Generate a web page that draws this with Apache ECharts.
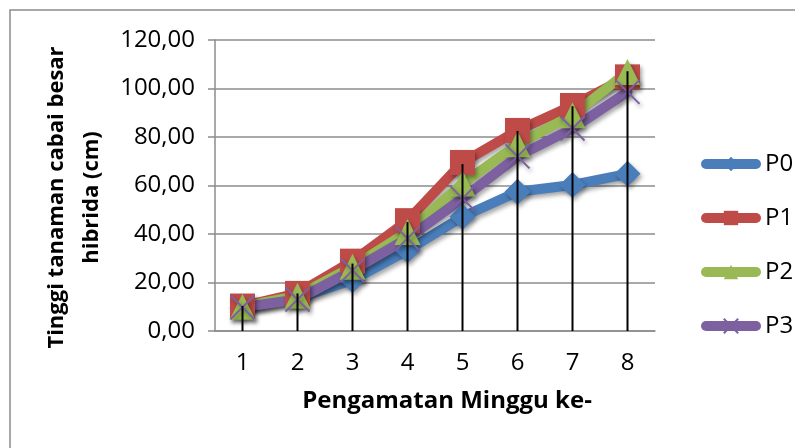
<!DOCTYPE html>
<html>
<head>
<meta charset="utf-8">
<style>
  html, body { margin: 0; padding: 0; background: #ffffff; }
  #chart { width: 795px; height: 448px; }
</style>
<script src="https://cdn.jsdelivr.net/npm/echarts@6/dist/echarts.min.js"></script>
</head>
<body>
<div id="chart"></div>
<script>
// Weekly observations
const minggu = ['1', '2', '3', '4', '5', '6', '7', '8'];

// Plant height (cm) per treatment
const P0 = [9.5, 13.5, 21.0, 33.3, 47.1, 57.4, 60.2, 64.8];
const P1 = [10.3, 15.5, 28.8, 45.5, 69.5, 82.7, 93.0, 104.8];
const P2 = [10.0, 14.5, 26.5, 40.8, 60.8, 77.0, 89.0, 106.8];
const P3 = [9.8, 13.0, 25.0, 38.2, 54.7, 72.0, 83.5, 98.6];

// Vertical reference bars drawn from zero at each week
const garisAtas = [10.3, 15.5, 27.8, 44.9, 68.8, 82.5, 92.7, 107.1];

// Y-axis ticks
const yMin = 0, yMax = 120, yStep = 20;

const FONT = 'Open Sans';
const shadow = {
  shadowColor: 'rgba(0,0,0,0.35)',
  shadowBlur: 4,
  shadowOffsetX: 2,
  shadowOffsetY: 3
};

function lineSeries(name, data, color, symbol, size, extra) {
  return Object.assign({
    name: name,
    type: 'line',
    data: data,
    symbol: symbol,
    symbolSize: size,
    showAllSymbol: true,
    lineStyle: Object.assign({ color: color, width: 10, cap: 'round', join: 'round' }, shadow),
    itemStyle: Object.assign({ color: color }, shadow),
    emphasis: { disabled: true },
    animation: false
  }, extra || {});
}

const chart = echarts.init(document.getElementById('chart'), null, { renderer: 'canvas' });

chart.setOption({
  backgroundColor: '#ffffff',
  textStyle: { fontFamily: FONT },
  graphic: [{
    type: 'rect',
    shape: { x: 10, y: 10, width: 800, height: 460 },
    style: { fill: 'none', stroke: '#8c8c8c', lineWidth: 1.5 },
    silent: true,
    z: -1
  }],
  grid: { left: 215, right: 140, top: 40, bottom: 117 },
  legend: {
    data: ['P0', 'P1', 'P2', 'P3'],
    orient: 'vertical',
    left: 696,
    top: 147,
    itemWidth: 50,
    itemHeight: 18,
    itemGap: 30,
    lineStyle: { width: 10, cap: 'round', shadowBlur: 0, shadowOffsetX: 0, shadowOffsetY: 0 },
    itemStyle: { shadowBlur: 0, shadowOffsetX: 0, shadowOffsetY: 0 },
    textStyle: { fontFamily: FONT, fontSize: 24, color: '#000', padding: [0, 0, 0, 4] },
    selectedMode: false
  },
  xAxis: {
    type: 'category',
    data: minggu,
    boundaryGap: true,
    axisLine: { lineStyle: { color: '#8c8c8c', width: 1.5 } },
    axisTick: { show: false },
    axisLabel: { color: '#000', fontFamily: FONT, fontSize: 24, margin: 20 },
    name: 'Pengamatan Minggu ke-',
    nameLocation: 'middle',
    nameGap: 58,
    nameTextStyle: { color: '#000', fontFamily: FONT, fontSize: 24, fontWeight: 'bold', padding: [0, 0, 0, 24] }
  },
  yAxis: {
    type: 'value',
    min: yMin,
    max: yMax,
    interval: yStep,
    axisLine: { show: true, lineStyle: { color: '#8c8c8c', width: 1.5 } },
    axisTick: { show: true, inside: false, length: 7, lineStyle: { color: '#8c8c8c', width: 1.5 } },
    splitLine: { lineStyle: { color: '#8c8c8c', width: 1.5 } },
    axisLabel: {
      color: '#000', fontFamily: FONT, fontSize: 24, margin: 20,
      formatter: v => v.toFixed(2).replace('.', ',')
    },
    name: 'Tinggi tanaman cabai besar\nhibrida (cm)',
    nameLocation: 'middle',
    nameRotate: 90,
    nameGap: 105,
    nameTextStyle: { color: '#000', fontFamily: FONT, fontSize: 22, fontWeight: 'bold', lineHeight: 35, padding: [0, 24, 0, 0] }
  },
  series: [
    lineSeries('P0', P0, '#4A7EBB', 'diamond', 26),
    lineSeries('P1', P1, '#BE4B48', 'rect', 25),
    lineSeries('P2', P2, '#98B954', 'triangle', 26),
    lineSeries('P3', P3, '#7D60A0', 'path://M0,0L10,10M10,0L0,10', 24, {
      itemStyle: Object.assign({ color: '#7D60A0', borderColor: '#7D60A0', borderWidth: 2 }, shadow)
    }),
    {
      name: 'garis',
      type: 'bar',
      data: garisAtas,
      barWidth: 2,
      itemStyle: { color: '#000' },
      z: 10,
      silent: true,
      animation: false
    }
  ]
});
</script>
</body>
</html>
